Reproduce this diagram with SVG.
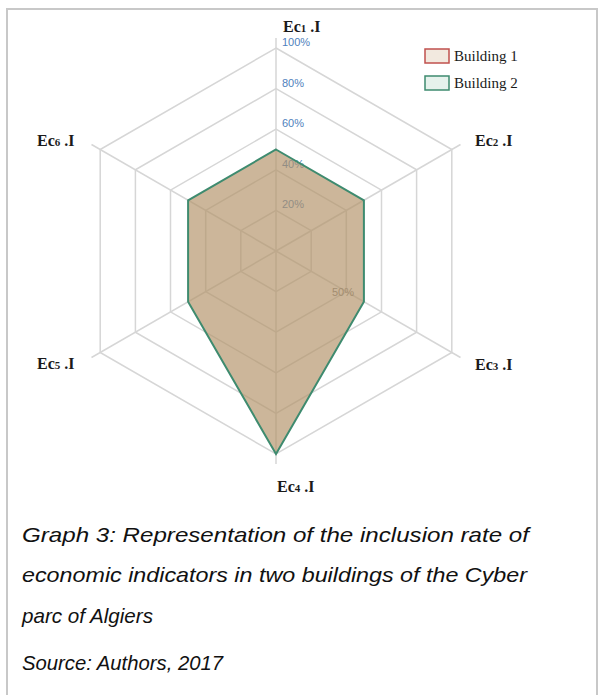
<svg xmlns="http://www.w3.org/2000/svg" width="605" height="695" viewBox="0 0 605 695">
  <style>
    .frame { fill: none; stroke: #c8c8c8; stroke-width: 2; }
    .grid { fill: none; stroke: #d6d6d6; stroke-width: 1.5; }
    .spoke { stroke: #d6d6d6; stroke-width: 1.5; }
    .tick { font-family: "Liberation Sans", Arial, sans-serif; font-size: 11px; fill: #4f81bd; }
    .axis { font-family: "Liberation Serif", "Times New Roman", serif; font-size: 16px; font-weight: bold; fill: #1a1a1a; }
    .sub { font-size: 11px; }
    .legend { font-family: "Liberation Serif", "Times New Roman", serif; font-size: 15px; fill: #1a1a1a; }
    .caption { font-family: "Liberation Sans", Arial, sans-serif; font-size: 21px; font-style: italic; fill: #111; }
  </style>

  <!-- page frame -->
  <path class="frame" d="M7,695 V9 H597 V695"/>

  <!-- radar grid: centre (276,251), 100% radius 203 -->
  <g id="grid">
    <polygon class="grid" points="276,48 451.8,149.5 451.8,352.5 276,454 100.2,352.5 100.2,149.5"/>
    <polygon class="grid" points="276,88.6 416.6,169.8 416.6,332.2 276,413.4 135.4,332.2 135.4,169.8"/>
    <polygon class="grid" points="276,129.2 381.5,190.1 381.5,311.9 276,372.8 170.5,311.9 170.5,190.1"/>
    <polygon class="grid" points="276,169.8 346.3,210.4 346.3,291.6 276,332.2 205.7,291.6 205.7,210.4"/>
    <polygon class="grid" points="276,210.4 311.2,230.7 311.2,271.3 276,291.6 240.8,271.3 240.8,230.7"/>
    <g id="spokes">
      <line class="spoke" x1="276" y1="251" x2="276" y2="38"/>
      <line class="spoke" x1="276" y1="251" x2="460.5" y2="144.5"/>
      <line class="spoke" x1="276" y1="251" x2="460.5" y2="357.5"/>
      <line class="spoke" x1="276" y1="251" x2="276" y2="464"/>
      <line class="spoke" x1="276" y1="251" x2="91.5" y2="357.5"/>
      <line class="spoke" x1="276" y1="251" x2="91.5" y2="144.5"/>
    </g>
  </g>

  <!-- scale labels -->
  <g id="scale">
    <text class="tick" x="282" y="46">100%</text>
    <text class="tick" x="282" y="86.5">80%</text>
    <text class="tick" x="282" y="127">60%</text>
    <text class="tick" x="282" y="167.5">40%</text>
    <text class="tick" x="282" y="208">20%</text>
    <text class="tick" x="332" y="296" style="fill:#7f7f7f">50%</text>
  </g>

  <!-- data series (Building 1 under Building 2) -->
  <g id="series">
    <polygon id="building1" points="276,149.5 363.9,200.3 363.9,301.8 276,454 188.1,301.8 188.1,200.3" fill="#c0504d" fill-opacity="0.15" stroke="none"/>
    <polygon id="building2" points="276,149.5 363.9,200.3 363.9,301.8 276,454 188.1,301.8 188.1,200.3" fill="#b29a6c" fill-opacity="0.62" stroke="#3e8b6f" stroke-width="2"/>
  </g>

  <!-- axis labels -->
  <g id="axis-labels">
    <g id="ec1"><text class="axis" x="283" y="32">Ec<tspan class="sub">1</tspan> .I</text></g>
    <g id="ec2"><text class="axis" x="475" y="146">Ec<tspan class="sub">2</tspan> .I</text></g>
    <g id="ec3"><text class="axis" x="475" y="370">Ec<tspan class="sub">3</tspan> .I</text></g>
    <g id="ec4"><text class="axis" x="277" y="492">Ec<tspan class="sub">4</tspan> .I</text></g>
    <g id="ec5"><text class="axis" x="37" y="369">Ec<tspan class="sub">5</tspan> .I</text></g>
    <g id="ec6"><text class="axis" x="37" y="146">Ec<tspan class="sub">6</tspan> .I</text></g>
  </g>

  <!-- legend -->
  <g id="legend">
    <rect x="425" y="49" width="24" height="14" fill="#f2e9df" stroke="#c0504d" stroke-width="1.5"/>
    <text class="legend" x="454" y="61">Building 1</text>
    <rect x="425" y="76" width="24" height="14" fill="#e6f2ec" stroke="#3e8b6f" stroke-width="1.5"/>
    <text class="legend" x="454" y="88">Building 2</text>
  </g>

  <!-- caption -->
  <g id="caption">
    <text class="caption" x="22" y="542" textLength="507" lengthAdjust="spacingAndGlyphs">Graph 3: Representation of the inclusion rate of</text>
    <text class="caption" x="22" y="582" textLength="505" lengthAdjust="spacingAndGlyphs">economic indicators in two buildings of the Cyber</text>
    <text class="caption" x="22" y="623" textLength="131" lengthAdjust="spacingAndGlyphs">parc of Algiers</text>
    <text class="caption" x="22" y="670" textLength="201" lengthAdjust="spacingAndGlyphs">Source: Authors, 2017</text>
  </g>
</svg>
